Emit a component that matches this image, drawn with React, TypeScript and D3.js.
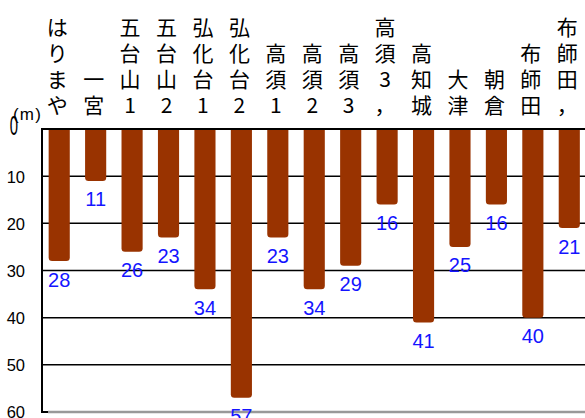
import React from "react";
import * as d3 from "d3";

// Well depths (m) by site
const categories = [
  "はりまや", "一宮", "五台山1", "五台山2", "弘化台1", "弘化台2", "高須1",
  "高須2", "高須3", "高須3，", "高知城", "大津", "朝倉", "布師田", "布師田，",
];
const depths = [28, 11, 26, 23, 34, 57, 23, 34, 29, 16, 41, 25, 16, 40, 21];
const yTicks = [0, 10, 20, 30, 40, 50, 60];

const W = 585;
const H = 418;
const LATIN = "'Liberation Sans', Arial, sans-serif";
const CJK = "'Noto Sans CJK JP', 'Noto Sans', sans-serif";
const BAR = "#993300";

function barPath(x: number, y0: number, w: number, y1: number, r: number) {
  const rr = Math.min(r, (y1 - y0) / 2, w / 2);
  return `M${x},${y0}H${x + w}V${y1 - rr}Q${x + w},${y1} ${x + w - rr},${y1}H${x + rr}Q${x},${y1} ${x},${y1 - rr}Z`;
}

export default function App() {
  const y = d3.scaleLinear().domain([0, 60]).range([129, 412]);
  const x = d3
    .scaleBand<string>()
    .domain(categories.map((_, i) => String(i)))
    .range([41, 587.5])
    .paddingInner(0.42)
    .paddingOuter(0.21);
  const bw = x.bandwidth();

  return (
    <svg
      width={W}
      height={H}
      style={{ position: "absolute", left: 0, top: 0, display: "block" }}
    >
      <rect x={0} y={0} width={W} height={H} fill="#fff" />

      {/* gridlines */}
      {yTicks.slice(1, -1).map((t) => (
        <line key={t} x1={42} x2={W} y1={y(t)} y2={y(t)} stroke="#000" strokeWidth={1.5} />
      ))}

      {/* bars hanging from the surface line */}
      {depths.map((d, i) => {
        const bx = x(String(i))!;
        return (
          <path key={i} d={barPath(bx, y(0) + 1, bw, y(d), 3.5)} fill={BAR} />
        );
      })}

      {/* frame */}
      <line x1={42} x2={W} y1={y(0)} y2={y(0)} stroke="#000" strokeWidth={2} />
      <line x1={48} x2={W} y1={y(60)} y2={y(60)} stroke="#999" strokeWidth={2.5} />
      <line x1={42} x2={48} y1={y(60)} y2={y(60)} stroke="#000" strokeWidth={2} />
      <line x1={42} x2={42} y1={y(0) - 1} y2={y(60) + 1} stroke="#000" strokeWidth={2} />

      {/* value labels */}
      {depths.map((d, i) => (
        <text
          key={i}
          x={x(String(i))! + bw / 2}
          y={y(d) + 25.5}
          textAnchor="middle"
          fontFamily={LATIN}
          fontSize={20}
          fill="#1414ff"
        >
          {d}
        </text>
      ))}

      {/* y tick labels (the top "0" is drawn tall and narrow) */}
      {yTicks.map((t) =>
        t === 0 ? (
          <text
            key={t}
            transform="translate(18,125) scale(0.9,1.7)"
            y={5.9}
            textAnchor="end"
            fontFamily={LATIN}
            fontSize={16.5}
            fill="#000"
          >
            {t}
          </text>
        ) : (
          <text
            key={t}
            x={25}
            y={y(t) + 0.5 + 5.9}
            textAnchor="end"
            fontFamily={LATIN}
            fontSize={16.5}
            fill="#000"
          >
            {t}
          </text>
        )
      )}
      <text
        x={13}
        y={120}
        fontFamily={LATIN}
        fontSize={17}
        letterSpacing={1.2}
        fill="#000"
      >
        (m)
      </text>

      {/* vertical category labels */}
      {categories.map((c, i) => {
        const chars = Array.from(c);
        const cx = x(String(i))! + bw / 2 - 2;
        return (
          <g key={i}>
            {chars.map((ch, j) => (
              <text
                key={j}
                x={cx}
                y={113 - (chars.length - 1 - j) * 26}
                textAnchor="middle"
                fontFamily={CJK}
                fontSize={21}
                fill="#000"
              >
                {ch}
              </text>
            ))}
          </g>
        );
      })}
    </svg>
  );
}
